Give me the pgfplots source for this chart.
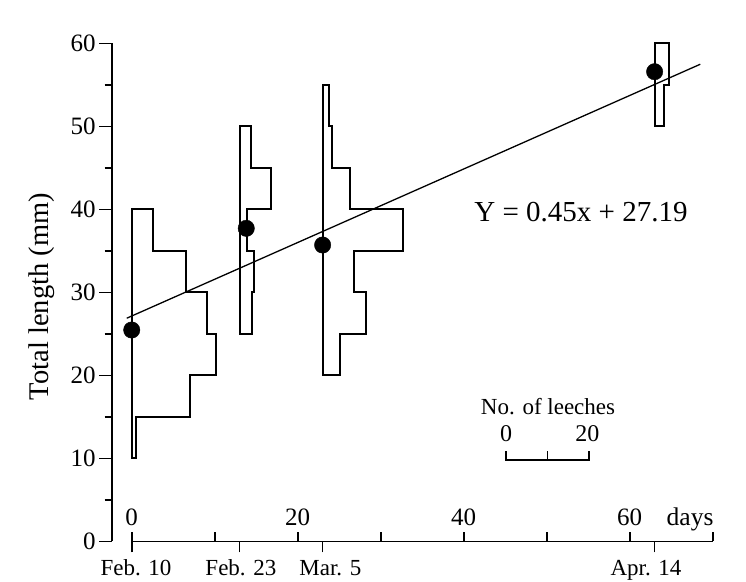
\documentclass[border=0pt]{standalone}
\usepackage{fontspec}
\setmainfont{Liberation Serif}
\usepackage{pgfplots}
\pgfplotsset{compat=1.18}
\begin{document}
\begin{tikzpicture}
% length axis (mm); 1 unit = 8.3bp in both directions
\begin{axis}[
  x=8.3bp, y=8.3bp,
  xmin=-2.41, xmax=72, ymin=0, ymax=60,
  clip=false,
  axis x line=none,
  axis y line=left,
  y axis line style={-, line width=1.8bp},
  xtick=\empty,
  ytick={0,10,...,60},
  minor ytick={5,15,...,55},
  tick align=outside,
  major tick length=12.5bp,
  minor tick length=7bp,
  tick style={black, line width=1.6bp},
  yticklabel style={font=\fontsize{25bp}{29bp}\selectfont},
  /pgf/number format/assume math mode=true,
]
\coordinate (bl) at (axis cs:-15.87,-4.88);
\coordinate (tr) at (axis cs:74.01,65.24);
\coordinate (O) at (axis cs:0,0);

% Feb. 10
\addplot[black, line width=2bp] coordinates {(0,25)(0,40)(2.57,40)(2.57,35)(6.59,35)(6.59,30)(9.13,30)(9.13,25)(10.2,25)(10.2,20)(7.07,20)(7.07,15)(0.48,15)(0.48,10)(0,10)(0,25)};
% Feb. 23
\addplot[black, line width=2bp] coordinates {(13.1,35)(13.1,50)(14.34,50)(14.34,45)(16.78,45)(16.78,40)(13.86,40)(13.86,35)(14.73,35)(14.73,30)(14.46,30)(14.46,25)(13.1,25)(13.1,35)};
% Mar. 5
\addplot[black, line width=2bp] coordinates {(23.05,40)(23.05,55)(23.81,55)(23.81,50)(24.1,50)(24.1,45)(26.3,45)(26.3,40)(32.65,40)(32.65,35)(26.78,35)(26.78,30)(28.19,30)(28.19,25)(25.1,25)(25.1,20)(23.05,20)(23.05,40)};
% Apr. 14
\addplot[black, line width=2bp] coordinates {(63.1,55)(63.1,60)(64.73,60)(64.73,55)(64.17,55)(64.17,50)(63.1,50)(63.1,55)};

% regression line
\addplot[black, line width=1.3bp] coordinates {(-0.6,26.9)(68.5,57.5)};

% means
\addplot[only marks, mark=*, mark size=8.2bp, mark options={fill=black, draw=black}] coordinates {(0,25.48)(13.8,37.73)(23.0,35.72)(63.0,56.6)};

% scale bar for number of leeches
\addplot[black, line width=1.5bp] coordinates {(45.1,10.9)(45.1,9.82)(55.1,9.82)(55.1,10.9)};
\addplot[black, line width=1.5bp] coordinates {(50.1,9.82)(50.1,10.9)};
\node[anchor=base, font=\fontsize{23bp}{27bp}\selectfont] at (axis cs:50.16,15.36) {No. of leeches};
\node[anchor=base, font=\fontsize{24bp}{28bp}\selectfont] at (axis cs:45.1,12.0) {0};
\node[anchor=base, font=\fontsize{24bp}{28bp}\selectfont] at (axis cs:54.9,12.0) {20};

\node[rotate=90, font=\fontsize{28.5bp}{32bp}\selectfont] at (axis cs:-10.8,29.5) {Total length (mm)};
\node[anchor=base, font=\fontsize{29bp}{33bp}\selectfont] at (axis cs:54.13,38.53) {Y = 0.45x + 27.19};

% dates under the day axis
\node[anchor=base, font=\fontsize{23bp}{27bp}\selectfont] at (axis cs:0.52,-4.04) {Feb. 10};
\node[anchor=base, font=\fontsize{23bp}{27bp}\selectfont] at (axis cs:13.16,-4.04) {Feb. 23};
\node[anchor=base, font=\fontsize{23bp}{27bp}\selectfont] at (axis cs:23.93,-4.04) {Mar. 5};
\node[anchor=base, font=\fontsize{23bp}{27bp}\selectfont] at (axis cs:61.96,-4.04) {Apr. 14};
\node[anchor=base, font=\fontsize{25.5bp}{29bp}\selectfont] at (axis cs:67.27,1.87) {days};
\end{axis}

% day axis
\begin{axis}[
  at={(O)}, anchor=south west,
  x=8.3bp, y=8.3bp,
  xmin=0, xmax=70, ymin=0, ymax=1,
  axis x line=bottom, axis y line=none,
  x axis line style={-, line width=1.8bp},
  ytick=\empty,
  xtick={0,10,...,70},
  xticklabels={0,,20,,40,,60,},
  tick align=inside,
  major tick length=9bp,
  tick style={black, line width=1.6bp},
  xticklabel style={anchor=base, yshift=15.5bp, font=\fontsize{25bp}{29bp}\selectfont},
  extra x ticks={0,13,23,63},
  extra x tick labels={,,,},
  extra x tick style={tick align=outside, major tick length=11bp},
]
\end{axis}
\pgfresetboundingbox
\useasboundingbox (bl) rectangle (tr);
\end{tikzpicture}
\end{document}
